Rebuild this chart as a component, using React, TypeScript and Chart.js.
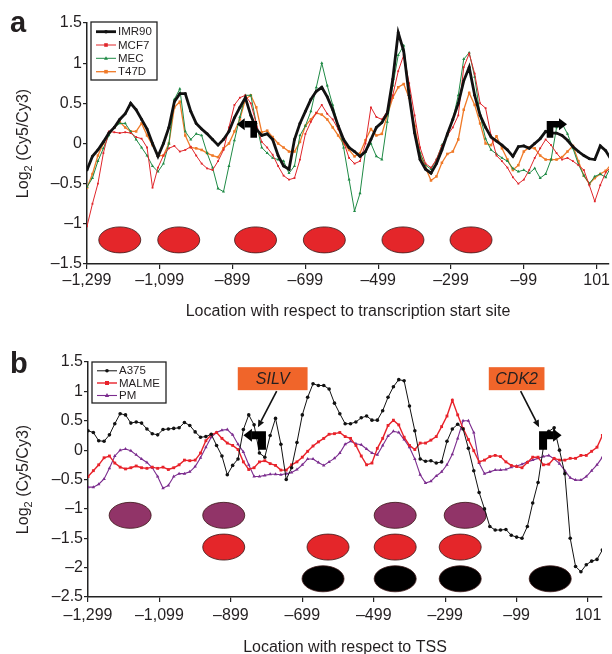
import React, { useEffect, useRef } from 'react';
import { Chart, registerables } from 'chart.js';

Chart.register(...registerables);

const FONT = "'Liberation Sans', Arial, Helvetica, sans-serif";
const TEXT = '#231f20';

// ---------- data ----------
const positions = [
  -1299, -1284, -1269, -1254, -1239, -1224, -1209, -1194, -1179, -1164,
  -1149, -1134, -1119, -1104, -1089, -1074, -1059, -1044, -1029, -1014,
  -999, -984, -969, -954, -939, -924, -909, -894, -879, -864,
  -849, -834, -819, -804, -789, -774, -759, -744, -729, -714,
  -699, -684, -669, -654, -639, -624, -609, -594, -579, -564,
  -549, -534, -519, -504, -489, -474, -459, -444, -429, -414,
  -399, -384, -369, -354, -339, -324, -309, -294, -279, -264,
  -249, -234, -219, -204, -189, -174, -159, -144, -129, -114,
  -99, -84, -69, -54, -39, -24, -9, 6, 21, 36,
  51, 66, 81, 96, 111, 126, 141,
];

// panel a
const imr90 = [
  -0.33, -0.16, -0.08, 0.02, 0.13, 0.2, 0.3, 0.37, 0.5, 0.42,
  0.3, 0.18, 0.0, -0.16, 0.0, 0.2, 0.52, 0.62, 0.62, 0.4,
  0.25, 0.18, 0.12, 0.05, -0.02, 0.05, 0.15, 0.32, 0.45, 0.57,
  0.35, 0.18, 0.1, 0.12, 0.05, -0.15, -0.28, -0.32, 0.05, 0.25,
  0.4, 0.55, 0.65, 0.7, 0.58, 0.42, 0.22, 0.05, -0.05, -0.1,
  -0.16, -0.1, 0.05, 0.2, 0.26, 0.38, 0.8, 1.38, 1.15, 0.6,
  0.13, -0.2, -0.32, -0.37, -0.25, -0.08, 0.12, 0.3, 0.5, 0.78,
  0.95, 0.6, 0.35, 0.2, 0.08, 0.03, -0.02, -0.08, -0.16, -0.04,
  -0.03, -0.06, 0.0, 0.06, 0.15, 0.13, 0.13, 0.1, 0.04, -0.04,
  -0.1, -0.15, -0.19, -0.2, -0.03, -0.09, -0.2,
];
const mcf7 = [
  -1.03, -0.75, -0.5, -0.12, 0.15, 0.14, 0.13, 0.14, 0.13, 0.08,
  0.06, -0.05, -0.55, -0.3, -0.15, -0.06, -0.03, -0.1, -0.08, -0.04,
  -0.15, -0.25, -0.31, -0.33, -0.22, -0.08, 0.2, 0.48, 0.57, 0.6,
  0.5, 0.25, 0.02, -0.05, -0.14, -0.28, -0.4, -0.45, -0.43, -0.2,
  0.12, 0.27, 0.38, 0.48, 0.37, 0.3, 0.18, 0.02, -0.18, -0.25,
  -0.22, 0.0, 0.45, 0.33, 0.3, 0.4, 0.6, 0.9, 1.1, 0.75,
  0.35, -0.05, -0.25, -0.3, -0.2, -0.03, 0.1, 0.2, 0.35, 0.95,
  1.12, 0.87, 0.5, 0.44, 0.1, -0.15, -0.22, -0.3, -0.42, -0.5,
  -0.45, -0.33, -0.18, -0.06, 0.05, -0.02, -0.12, -0.2, -0.18, -0.22,
  -0.27, -0.33, -0.52, -0.72, -0.52, -0.36, -0.29,
];
const mec = [
  -0.54, -0.43, -0.22, -0.06, 0.1, 0.2, 0.25, 0.25, 0.15, 0.05,
  -0.05, -0.15, -0.28, -0.35, -0.25, 0.0, 0.55, 0.68, 0.15, 0.05,
  0.12, 0.1, -0.12, -0.3, -0.56, -0.6, -0.28, 0.04, 0.33, 0.6,
  0.6, 0.25, -0.05, -0.12, -0.18, -0.2, -0.22, -0.37, -0.28, 0.1,
  0.22, 0.4, 0.7, 1.0, 0.72, 0.48, 0.22, -0.05, -0.45, -0.84,
  -0.62, -0.1, 0.0, -0.16, -0.2, 0.27, 0.72, 1.1, 1.22, 0.65,
  0.15, -0.12, -0.27, -0.32, -0.2, -0.02, 0.1, 0.3, 0.6, 1.05,
  1.13, 0.83, 0.35, 0.06, -0.08, -0.13, -0.18, -0.22, -0.31, -0.35,
  -0.33, -0.37, -0.31, -0.43, -0.38, -0.2, 0.2, 0.25, 0.12, -0.06,
  -0.26, -0.4, -0.5, -0.41, -0.38, -0.42, -0.28,
];
const t47d = [
  -0.55, -0.38, -0.15, 0.0, 0.12, 0.2, 0.27, 0.2, 0.15, 0.15,
  0.25, 0.1, -0.02, -0.15, -0.15, 0.0, 0.45, 0.52, 0.1, -0.05,
  -0.06, -0.08, -0.12, -0.15, -0.17, -0.06, 0.0, 0.15, 0.3, 0.55,
  0.6, 0.45, 0.14, 0.16, 0.08, 0.0, -0.05, -0.1, -0.1, 0.02,
  0.22, 0.3, 0.38, 0.36, 0.3, 0.2, 0.1, 0.0, -0.08, -0.16,
  -0.12, 0.04, 0.18, 0.1, 0.12, 0.35, 0.57, 0.7, 0.74, 0.57,
  0.22, -0.13, -0.3, -0.46, -0.41, -0.24, -0.13, -0.1, 0.05, 0.42,
  0.63, 0.48, 0.25, 0.0, -0.02, 0.09, -0.06, -0.2, -0.33, -0.27,
  -0.1, -0.05, -0.06, -0.15, -0.2, -0.2, -0.2, -0.17, -0.1, -0.03,
  -0.22, -0.4, -0.5, -0.43, -0.38, -0.34, -0.26,
];

// panel b
const a375 = [
  0.33, 0.3, 0.16, 0.15, 0.26, 0.45, 0.62, 0.6, 0.46, 0.48,
  0.46, 0.36, 0.28, 0.26, 0.35, 0.36, 0.37, 0.38, 0.47, 0.42,
  0.31, 0.22, 0.23, 0.27, 0.08, -0.1, -0.42, -0.26, -0.15, 0.35,
  0.6, 0.43, -0.05, -0.12, 0.25, 0.54, 0.1, -0.5, -0.3, 0.13,
  0.6, 0.9, 1.13, 1.1, 1.1, 1.04, 0.8, 0.62, 0.45, 0.45,
  0.48, 0.55, 0.58, 0.51, 0.51, 0.67, 0.9, 1.08, 1.2, 1.18,
  0.75, 0.33, -0.15, -0.19, -0.18, -0.22, -0.2, 0.15, 0.36, 0.44,
  0.36, 0.03, -0.35, -0.72, -1.0, -1.3, -1.36, -1.36, -1.35, -1.45,
  -1.48, -1.5, -1.3, -0.9, -0.55, 0.05, 0.32, 0.38, 0.0, -0.4,
  -1.5, -1.98, -2.07, -1.95, -1.89, -1.86, -1.7,
];
const malme = [
  -0.45, -0.35, -0.25, -0.13, -0.1, -0.22, -0.29, -0.32, -0.3, -0.27,
  -0.3, -0.31, -0.29, -0.31, -0.29, -0.33, -0.3, -0.25, -0.17, -0.18,
  -0.17, -0.05, 0.16, 0.26, 0.3, 0.2, 0.12, 0.08, 0.01, -0.2,
  -0.33, -0.3, -0.2, -0.18, -0.23, -0.26, -0.34, -0.34, -0.25, -0.2,
  -0.12, -0.02, 0.07, 0.14, 0.2, 0.27, 0.28, 0.3, 0.23, 0.2,
  0.08, -0.1, -0.25, -0.22, 0.03, 0.2, 0.42, 0.51, 0.43, 0.22,
  0.08, 0.01, 0.12, 0.12, 0.17, 0.23, 0.4, 0.58, 0.85, 0.6,
  0.37, 0.18, -0.01, -0.2, -0.17, -0.11, -0.09, -0.11, -0.2, -0.26,
  -0.28, -0.3, -0.21, -0.12, -0.12, -0.25, -0.24, -0.14, -0.17, -0.17,
  -0.14, -0.14, -0.09, -0.09, -0.02, 0.05, 0.25,
];
const pm = [
  -0.63, -0.63, -0.58, -0.49, -0.31, -0.1, 0.0, 0.02, -0.01, -0.08,
  -0.15, -0.21, -0.3, -0.45, -0.65, -0.6, -0.45, -0.4, -0.4, -0.37,
  -0.28, -0.13, 0.05, 0.22, 0.3, 0.34, 0.35, 0.26, 0.1, -0.03,
  -0.25, -0.45, -0.45, -0.43, -0.41, -0.41, -0.42, -0.4, -0.38, -0.33,
  -0.25, -0.15, -0.15, -0.21, -0.26, -0.2, -0.14, -0.05, 0.1, 0.15,
  0.11, 0.09, 0.02, -0.05, -0.08, 0.08, 0.24, 0.32, 0.3, 0.18,
  0.05, -0.15, -0.42, -0.56, -0.53, -0.44, -0.37, -0.25, -0.07, 0.2,
  0.5, 0.5, 0.3, -0.22, -0.4, -0.37, -0.34, -0.34, -0.33, -0.29,
  -0.27, -0.24, -0.2, -0.17, -0.14, -0.11, -0.09, -0.15, -0.23, -0.35,
  -0.47, -0.51, -0.51, -0.45, -0.35, -0.25, -0.12,
];

// ticks
const xTickValues = [-1299, -1099, -899, -699, -499, -299, -99, 101];
const xTickLabels = ['\u20131,299', '\u20131,099', '\u2013899', '\u2013699', '\u2013499', '\u2013299', '\u201399', '101'];
const yTicksA = [-1.5, -1, -0.5, 0, 0.5, 1, 1.5];
const yTicksB = [-2.5, -2, -1.5, -1, -0.5, 0, 0.5, 1, 1.5];

// nucleosome positions (bp) and levels
const nucleosomesA = [-1209, -1047, -836, -647, -431, -244];
const nucleosomeLevelA = -1.2;
const pmNucleosomes = [-1181, -919, -439, -243];
const malmeNucleosomes = [-919, -627, -439, -257];
const a375Nucleosomes = [-641, -439, -257, -5];
const pmLevel = -1.11;
const malmeLevel = -1.65;
const a375Level = -2.19;

// TSS arrows (anchor in data coords)
const tssXA = [-841, -27];
const tssDirA = [-1, 1];
const tssYA = 0.24;
const tssXB = [-812, -25];
const tssDirB = [-1, 1];
const tssYB = 0.255;
const genes = ['SILV', 'CDK2'];
const geneBoxX = [-782, -99];
const geneBoxY = 1.216;

// ---------- drawing helpers ----------
function fmtY(v: number) {
  return v < 0 ? '\u2013' + String(-v) : String(v);
}
function fmtX(v: number) {
  const i = xTickValues.indexOf(v);
  return i >= 0 ? xTickLabels[i] : '';
}

function drawEllipse(ctx: CanvasRenderingContext2D, cx: number, cy: number, fill: string) {
  ctx.beginPath();
  ctx.ellipse(cx, cy, 21, 13, 0, 0, Math.PI * 2);
  ctx.fillStyle = fill;
  ctx.fill();
  ctx.lineWidth = 0.8;
  ctx.strokeStyle = '#3a1515';
  ctx.stroke();
}

function drawBentArrow(ctx: CanvasRenderingContext2D, x0: number, y0: number, dir: number, big: boolean) {
  const s = big ? 4 : 3.3;
  const stemLen = big ? 14.5 : 13.5;
  const arm = big ? 10 : 9;
  const head = big ? 8.5 : 8;
  const hh = big ? 6.5 : 6;
  ctx.fillStyle = '#000';
  ctx.beginPath();
  ctx.rect(x0 - s, y0 - s, 2 * s, s + stemLen);
  const armEnd = x0 + dir * arm;
  ctx.rect(Math.min(x0, armEnd), y0 - s, Math.abs(armEnd - x0) + 0.5, 2 * s);
  ctx.fill();
  ctx.beginPath();
  ctx.moveTo(armEnd, y0 - hh);
  ctx.lineTo(armEnd + dir * head, y0);
  ctx.lineTo(armEnd, y0 + hh);
  ctx.closePath();
  ctx.fill();
}

function drawLineArrow(ctx: CanvasRenderingContext2D, x1: number, y1: number, x2: number, y2: number) {
  const ang = Math.atan2(y2 - y1, x2 - x1);
  const hl = 7;
  const hw = 3.2;
  ctx.strokeStyle = '#111';
  ctx.fillStyle = '#111';
  ctx.lineWidth = 1.6;
  ctx.beginPath();
  ctx.moveTo(x1, y1);
  ctx.lineTo(x2 - Math.cos(ang) * hl, y2 - Math.sin(ang) * hl);
  ctx.stroke();
  ctx.beginPath();
  ctx.moveTo(x2, y2);
  ctx.lineTo(x2 - Math.cos(ang) * hl - Math.sin(ang) * hw, y2 - Math.sin(ang) * hl + Math.cos(ang) * hw);
  ctx.lineTo(x2 - Math.cos(ang) * hl + Math.sin(ang) * hw, y2 - Math.sin(ang) * hl - Math.cos(ang) * hw);
  ctx.closePath();
  ctx.fill();
}

function drawMarker(ctx: CanvasRenderingContext2D, style: string, x: number, y: number, r: number, color: string) {
  ctx.fillStyle = color;
  ctx.beginPath();
  if (style === 'rect') {
    ctx.rect(x - r, y - r, 2 * r, 2 * r);
  } else if (style === 'triangle') {
    ctx.moveTo(x, y - r * 1.2);
    ctx.lineTo(x + r * 1.1, y + r * 0.8);
    ctx.lineTo(x - r * 1.1, y + r * 0.8);
    ctx.closePath();
  } else {
    ctx.arc(x, y, r, 0, Math.PI * 2);
  }
  ctx.fill();
}

function drawLegend(chart: any, left: number, top: number, w: number, h: number, rows: number[]) {
  const ctx: CanvasRenderingContext2D = chart.ctx;
  ctx.save();
  ctx.fillStyle = '#fff';
  ctx.fillRect(left, top, w, h);
  ctx.strokeStyle = '#222';
  ctx.lineWidth = 1.3;
  ctx.strokeRect(left, top, w, h);
  chart.data.datasets.forEach((d: any, i: number) => {
    const y = rows[i];
    ctx.strokeStyle = d.borderColor;
    ctx.lineWidth = d.borderWidth;
    ctx.beginPath();
    ctx.moveTo(left + 5, y);
    ctx.lineTo(left + 25, y);
    ctx.stroke();
    drawMarker(ctx, d.pointStyle, left + 15, y, Math.max(d.pointRadius, 1.8), d.borderColor);
    ctx.fillStyle = TEXT;
    ctx.font = `11.5px ${FONT}`;
    ctx.textAlign = 'left';
    ctx.textBaseline = 'middle';
    ctx.fillText(d.label, left + 27, y + 0.5);
  });
  ctx.restore();
}

function drawYTitle(ctx: CanvasRenderingContext2D, x: number, cy: number) {
  ctx.save();
  ctx.translate(x, cy);
  ctx.rotate(-Math.PI / 2);
  ctx.fillStyle = TEXT;
  ctx.textBaseline = 'alphabetic';
  ctx.textAlign = 'left';
  const big = `16px ${FONT}`;
  const small = `11px ${FONT}`;
  ctx.font = big;
  const w1 = ctx.measureText('Log').width;
  const w3 = ctx.measureText(' (Cy5/Cy3)').width;
  ctx.font = small;
  const w2 = ctx.measureText('2').width;
  let px = -(w1 + w2 + w3) / 2;
  ctx.font = big;
  ctx.fillText('Log', px, 0);
  px += w1;
  ctx.font = small;
  ctx.fillText('2', px, 4);
  px += w2;
  ctx.font = big;
  ctx.fillText(' (Cy5/Cy3)', px, 0);
  ctx.restore();
}

function drawTexts(chart: any, letter: string, letterY: number, xTitle: string, xTitleDy: number) {
  const ctx: CanvasRenderingContext2D = chart.ctx;
  const ca = chart.chartArea;
  ctx.save();
  ctx.fillStyle = TEXT;
  ctx.font = `bold 29px ${FONT}`;
  ctx.textAlign = 'left';
  ctx.textBaseline = 'alphabetic';
  ctx.fillText(letter, 10, letterY);
  ctx.font = `16px ${FONT}`;
  ctx.textAlign = 'center';
  ctx.fillText(xTitle, (ca.left + ca.right) / 2, ca.bottom + xTitleDy);
  ctx.restore();
  drawYTitle(ctx, 27.5, (ca.top + ca.bottom) / 2);
}

// ---------- plugins ----------
const overlayA = {
  id: 'overlayA',
  beforeDatasetsDraw(chart: any) {
    const { ctx, scales } = chart;
    ctx.save();
    nucleosomesA.forEach((v) =>
      drawEllipse(ctx, scales.x.getPixelForValue(v), scales.y.getPixelForValue(nucleosomeLevelA), '#e4262a')
    );
    ctx.restore();
  },
  afterDatasetsDraw(chart: any) {
    const { ctx, scales } = chart;
    ctx.save();
    tssXA.forEach((v, i) =>
      drawBentArrow(ctx, scales.x.getPixelForValue(v), scales.y.getPixelForValue(tssYA), tssDirA[i], false)
    );
    ctx.restore();
  },
  afterDraw(chart: any) {
    drawLegend(chart, 91, 22, 66, 58, [31.7, 45, 58.3, 71.7]);
    drawTexts(chart, 'a', 32, 'Location with respect to transcription start site', 52);
  },
};

const overlayB = {
  id: 'overlayB',
  beforeDatasetsDraw(chart: any) {
    const { ctx, scales } = chart;
    ctx.save();
    const rows: [number[], number, string][] = [
      [pmNucleosomes, pmLevel, '#913468'],
      [malmeNucleosomes, malmeLevel, '#e4262a'],
      [a375Nucleosomes, a375Level, '#000000'],
    ];
    rows.forEach(([list, lvl, col]) =>
      list.forEach((v) => drawEllipse(ctx, scales.x.getPixelForValue(v), scales.y.getPixelForValue(lvl), col))
    );
    ctx.restore();
  },
  afterDatasetsDraw(chart: any) {
    const { ctx, scales } = chart;
    ctx.save();
    tssXB.forEach((v, i) =>
      drawBentArrow(ctx, scales.x.getPixelForValue(v), scales.y.getPixelForValue(tssYB), tssDirB[i], true)
    );
    genes.forEach((g, i) => {
      const cx = scales.x.getPixelForValue(geneBoxX[i]);
      const cy = scales.y.getPixelForValue(geneBoxY);
      ctx.font = `italic 16px ${FONT}`;
      const tw = ctx.measureText(g).width;
      const w = tw + (i === 0 ? 36 : 13);
      const h = 23;
      ctx.fillStyle = '#f0652a';
      ctx.fillRect(cx - w / 2, cy - h / 2, w, h);
      ctx.fillStyle = '#231f20';
      ctx.textAlign = 'center';
      ctx.textBaseline = 'middle';
      ctx.fillText(g, cx, cy + 1);
      const ax = scales.x.getPixelForValue(tssXB[i]);
      const ay = scales.y.getPixelForValue(tssYB);
      drawLineArrow(ctx, cx + 4, cy + h / 2 + 1, ax - 4, ay - 8);
    });
    ctx.restore();
  },
  afterDraw(chart: any) {
    drawLegend(chart, 92, 32, 74, 41, [40.8, 53, 65.5]);
    drawTexts(chart, 'b', 43, 'Location with respect to TSS', 54.5);
  },
};

// ---------- configs ----------
function series(label: string, values: number[], color: string, style: string, width: number, radius: number) {
  return {
    label,
    data: positions.map((x, i) => ({ x, y: values[i] })),
    borderColor: color,
    backgroundColor: color,
    borderWidth: width,
    pointStyle: style,
    pointRadius: radius,
    pointBorderWidth: 0,
    pointHoverRadius: radius,
    tension: 0,
    fill: false,
  };
}

function axisStyle() {
  return {
    grid: { display: true, drawOnChartArea: false, drawTicks: true, color: '#222', lineWidth: 1.2 },
    border: { display: true, color: '#222', width: 1.5 },
  };
}

function makeConfig(
  datasets: any[],
  yTicks: number[],
  yMin: number,
  yMax: number,
  xMax: number,
  padTop: number,
  padRight: number,
  yWidth: number,
  xHeight: number,
  xPad: number,
  plugin: any
) {
  const ax = axisStyle();
  return {
    type: 'line' as const,
    data: { datasets },
    options: {
      responsive: false,
      animation: false,
      events: [],
      layout: { padding: { top: padTop, right: padRight, bottom: 0, left: 0 } },
      plugins: { legend: { display: false }, tooltip: { enabled: false } },
      scales: {
        x: {
          type: 'linear',
          min: -1299,
          max: xMax,
          afterBuildTicks: (s: any) => {
            s.ticks = xTickValues.map((v) => ({ value: v }));
          },
          afterFit: (s: any) => {
            s.height = xHeight;
          },
          ticks: {
            callback: (v: number) => fmtX(v),
            font: { family: FONT, size: 16 },
            color: TEXT,
            padding: xPad,
            maxRotation: 0,
            autoSkip: false,
          },
          grid: { ...ax.grid, tickLength: 5 },
          border: ax.border,
        },
        y: {
          type: 'linear',
          min: yMin,
          max: yMax,
          afterBuildTicks: (s: any) => {
            s.ticks = yTicks.map((v) => ({ value: v }));
          },
          afterFit: (s: any) => {
            s.width = yWidth;
          },
          ticks: {
            callback: (v: number) => fmtY(v),
            font: { family: FONT, size: 16 },
            color: TEXT,
            padding: 1,
          },
          grid: { ...ax.grid, tickLength: 4 },
          border: ax.border,
        },
      },
    },
    plugins: [plugin],
  };
}

export default function App() {
  const refA = useRef<HTMLCanvasElement>(null);
  const refB = useRef<HTMLCanvasElement>(null);

  useEffect(() => {
    const dsA = [
      series('IMR90', imr90, '#111111', 'circle', 2.8, 1.4),
      series('MCF7', mcf7, '#e0262b', 'rect', 1, 1.3),
      series('MEC', mec, '#1f8a45', 'triangle', 1, 1.8),
      series('T47D', t47d, '#f07a28', 'rect', 1.3, 1.8),
    ];
    const dsB = [
      series('A375', a375, '#111111', 'circle', 1, 1.8),
      series('MALME', malme, '#e8222a', 'rect', 1.4, 2),
      series('PM', pm, '#7b2c8e', 'triangle', 1.1, 2),
    ];
    const chartA = new Chart(
      refA.current as HTMLCanvasElement,
      makeConfig(dsA, yTicksA, -1.5, 1.5, 135, 23, 1, 87, 56, 2, overlayA) as any
    );
    const chartB = new Chart(
      refB.current as HTMLCanvasElement,
      makeConfig(dsB, yTicksB, -2.5, 1.5, 140, 32, 10, 88, 57, 4, overlayB) as any
    );
    return () => {
      chartA.destroy();
      chartB.destroy();
    };
  }, []);

  return (
    <div style={{ position: 'absolute', left: 0, top: 0, width: 612, height: 654, background: '#fff', overflow: 'hidden' }}>
      <canvas ref={refA} width={612} height={320} style={{ position: 'absolute', left: 0, top: 0, width: 612, height: 320 }} />
      <canvas ref={refB} width={612} height={324} style={{ position: 'absolute', left: 0, top: 330, width: 612, height: 324 }} />
    </div>
  );
}
